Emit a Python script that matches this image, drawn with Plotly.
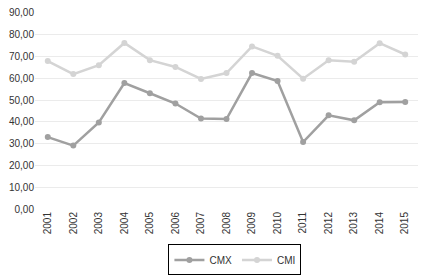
import plotly.graph_objects as go

years = [2001, 2002, 2003, 2004, 2005, 2006, 2007, 2008, 2009, 2010, 2011, 2012, 2013, 2014, 2015]
cmx = [33.0, 29.1, 39.7, 57.8, 53.1, 48.4, 41.5, 41.3, 62.4, 58.7, 30.7, 43.0, 40.7, 49.0, 49.1]
cmi = [67.9, 61.9, 66.0, 76.2, 68.3, 65.2, 59.7, 62.4, 74.6, 70.3, 59.8, 68.3, 67.6, 76.1, 70.9]
y_ticks = [0, 10, 20, 30, 40, 50, 60, 70, 80, 90]
y_labels = ["0,00", "10,00", "20,00", "30,00", "40,00", "50,00", "60,00", "70,00", "80,00", "90,00"]

fig = go.Figure()
fig.add_trace(go.Scatter(x=years, y=cmx, name="CMX", mode="lines+markers",
                         line=dict(color="#a0a0a0", width=2.5),
                         marker=dict(color="#a0a0a0", size=6)))
fig.add_trace(go.Scatter(x=years, y=cmi, name="CMI", mode="lines+markers",
                         line=dict(color="#d4d4d4", width=2.5),
                         marker=dict(color="#d4d4d4", size=6)))

fig.update_layout(
    width=422, height=269,
    margin=dict(l=27, r=12, t=4, b=68, autoexpand=False),
    paper_bgcolor="white", plot_bgcolor="white",
    font=dict(family="Liberation Sans, Arial, sans-serif", size=10, color="#333333"),
    xaxis=dict(range=[2000.5, 2015.5], tickmode="array", tickvals=years,
               ticktext=[str(y) for y in years], tickangle=-90,
               showgrid=False, zeroline=False, showline=False, ticks="",
               tickfont=dict(size=10), automargin=False),
    yaxis=dict(range=[0, 90.4], tickmode="array", tickvals=y_ticks, ticktext=y_labels,
               showgrid=True, gridcolor="#ebebeb", gridwidth=1, zeroline=False,
               showline=False, ticks="", tickfont=dict(size=10), automargin=False,
               ticklabeloverflow="allow"),
    legend=dict(orientation="h", x=0.522, xanchor="center", y=-0.18, yanchor="top",
                bordercolor="black", borderwidth=1, font=dict(size=10),
                itemwidth=30, tracegroupgap=0),
    showlegend=True,
)

fig.write_html("out.html")
